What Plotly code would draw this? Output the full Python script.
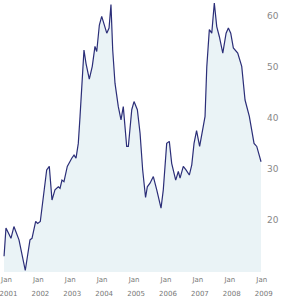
import plotly.graph_objects as go

dates = [
    "2000-12-04", "2000-12-26", "2001-02-21", "2001-03-27", "2001-05-24", "2001-06-24",
    "2001-08-04", "2001-09-27", "2001-10-20", "2001-12-01", "2001-12-24", "2002-01-23",
    "2002-02-19", "2002-04-06", "2002-05-06", "2002-06-06", "2002-07-10", "2002-08-17",
    "2002-09-06", "2002-09-28", "2002-10-21", "2002-11-28", "2003-01-18", "2003-02-13",
    "2003-03-08", "2003-04-03", "2003-04-23", "2003-05-19", "2003-06-07", "2003-06-30",
    "2003-08-07", "2003-09-10", "2003-10-11", "2003-10-31", "2003-11-30", "2003-12-27",
    "2004-01-22", "2004-02-23", "2004-03-20", "2004-04-11", "2004-05-01", "2004-05-27",
    "2004-07-04", "2004-08-04", "2004-08-30", "2004-10-08", "2004-10-27", "2004-12-05",
    "2004-12-31", "2005-02-07", "2005-03-10", "2005-04-09", "2005-05-12", "2005-06-01",
    "2005-07-02", "2005-08-09", "2005-09-17", "2005-11-05", "2005-12-01", "2006-01-09",
    "2006-02-08", "2006-03-07", "2006-04-22", "2006-05-22", "2006-06-11", "2006-07-18",
    "2006-08-18", "2006-09-25", "2006-10-23", "2006-11-18", "2006-12-17", "2007-01-21",
    "2007-03-05", "2007-03-24", "2007-04-13", "2007-05-12", "2007-06-09", "2007-07-08",
    "2007-08-05", "2007-09-04", "2007-10-13", "2007-11-20", "2007-12-16", "2008-01-12",
    "2008-02-11", "2008-04-01", "2008-05-17", "2008-06-24", "2008-08-12", "2008-10-05",
    "2008-11-05", "2008-12-24",
]
values = [
    12.9, 18.4, 16.4, 18.7, 16.1, 13.5,
    10.1, 16.1, 16.4, 19.7, 19.3, 19.7,
    23.9, 29.8, 30.5, 23.9, 25.9, 26.5,
    26.2, 27.8, 27.5, 30.5, 32.1, 32.7,
    32.1, 35.0, 40.3, 46.8, 53.3, 50.7,
    47.6, 50.1, 54.0, 53.0, 58.2, 59.9,
    58.2, 56.6, 57.6, 62.2, 53.3, 46.8,
    42.2, 39.6, 42.2, 34.4, 34.4, 41.6,
    43.2, 41.6, 37.0, 29.8, 24.4, 26.5,
    27.2, 28.5, 25.9, 22.3, 25.9, 35.0,
    35.4, 31.1, 27.8, 29.5, 28.2, 30.5,
    29.8, 28.8, 30.8, 35.0, 37.5, 34.4,
    38.5, 40.3, 50.0, 57.3, 56.6, 62.5,
    57.9, 55.9, 52.7, 56.6, 57.6, 56.6,
    53.7, 52.7, 50.1, 43.5, 40.3, 35.0,
    34.4, 31.4,
]

tick_dates = [f"{y}-01-01" for y in range(2001, 2010)]
month_labels = ["Jan"] * len(tick_dates)
year_labels = [str(y) for y in range(2001, 2010)]
y_ticks = [20, 30, 40, 50, 60]

x_range = ["2000-11-22", "2009-01-04"]

fig = go.Figure()
fig.add_trace(go.Scatter(
    x=dates, y=values, mode="lines", fill="tozeroy",
    fillcolor="#eaf3f6", line=dict(width=0, color="rgba(0,0,0,0)"),
    hoverinfo="skip", xaxis="x", yaxis="y",
))
fig.add_trace(go.Scatter(
    x=dates, y=values, mode="lines",
    line=dict(width=1.2, color="#2b2e78"),
    xaxis="x2", yaxis="y",
))

fig.update_layout(
    width=300, height=300,
    margin=dict(l=3, r=38, t=0, b=28),
    paper_bgcolor="white", plot_bgcolor="white",
    showlegend=False,
    xaxis=dict(
        type="date", range=x_range, tickvals=tick_dates, ticktext=month_labels,
        showgrid=False, zeroline=False, showline=False, ticks="",
        tickfont=dict(family="DejaVu Sans", size=7, color="#777777"),
        ticklabelstandoff=2, ticklabeloverflow="allow",
    ),
    xaxis2=dict(
        type="date", range=x_range, tickvals=tick_dates, ticktext=year_labels,
        overlaying="x", anchor="y", side="bottom",
        showgrid=False, zeroline=False, showline=False, ticks="",
        tickfont=dict(family="DejaVu Sans", size=7, color="#777777"),
        ticklabelstandoff=16, ticklabelshift=2, ticklabeloverflow="allow",
    ),
    yaxis=dict(
        range=[9.8, 63.1], side="right", tickvals=y_ticks,
        showgrid=False, zeroline=False, showline=False, ticks="",
        tickfont=dict(family="DejaVu Sans", size=9, color="#888888"),
        ticklabelstandoff=4,
    ),
)

fig.write_html("out.html")
